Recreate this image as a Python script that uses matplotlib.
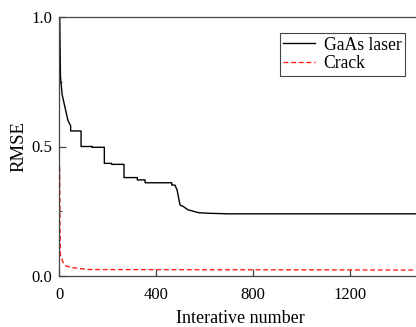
import matplotlib
matplotlib.use("Agg")
import matplotlib.pyplot as plt
from matplotlib.ticker import MultipleLocator

# GaAs laser curve (step-like decay)
gaasIter = [3, 6, 13, 25, 37, 48, 48, 91, 91, 136, 136, 187, 187, 217, 217, 268, 268,
            323, 323, 355, 355, 465, 465, 478, 487, 499, 513, 533, 547, 568, 581, 623, 700, 1500]
gaasRmse = [1.0, 0.77, 0.70, 0.65, 0.60, 0.58, 0.56, 0.56, 0.50, 0.50, 0.497, 0.497, 0.435,
            0.435, 0.431, 0.431, 0.38, 0.38, 0.371, 0.371, 0.36, 0.36, 0.351, 0.351, 0.332,
            0.274, 0.268, 0.255, 0.252, 0.246, 0.244, 0.242, 0.24, 0.24]

# Crack curve
crackIter = [3, 4, 6, 18, 30, 58, 120, 1500]
crackRmse = [0.42, 0.2, 0.08, 0.049, 0.038, 0.032, 0.025, 0.023]

xTicks = [0, 400, 800, 1200]
yTicks = [0.0, 0.5, 1.0]

plt.rcParams["font.family"] = ["Liberation Serif", "DejaVu Serif"]

fig = plt.figure(figsize=(4.16, 3.27), dpi=100)
ax = fig.add_axes([59 / 416, 51 / 327, 363.75 / 416, 259 / 327])

ax.plot(gaasIter, gaasRmse, color="black", lw=1.0, label="GaAs laser")
ax.plot(crackIter, crackRmse, color="#ff2020", lw=1.0, ls=(0, (3.5, 2)), label="Crack")

ax.set_xlim(0, 1500)
ax.set_ylim(0, 1.0)
ax.set_xticks(xTicks)
ax.set_yticks(yTicks)
ax.set_yticklabels(["0.0", "0.5", "1.0"])
ax.yaxis.set_minor_locator(MultipleLocator(0.25))

for s in ax.spines.values():
    s.set_color("#444444")
    s.set_linewidth(0.9)

ax.tick_params(which="both", direction="in", colors="#444444", labelcolor="black",
               labelsize=12, width=0.9)
ax.tick_params(which="major", length=5)
ax.tick_params(which="minor", length=2.5)
ax.tick_params(axis="x", pad=8)
ax.tick_params(axis="y", pad=5)

ax.set_xlabel("Interative number", fontsize=13, labelpad=5)
ax.set_ylabel("RMSE", fontsize=13.5, labelpad=3)

leg = ax.legend(loc="upper right", bbox_to_anchor=(0.951, 0.938), borderaxespad=0,
                fancybox=False, edgecolor="#444444", framealpha=1, fontsize=12.7,
                handlelength=1.8, handletextpad=0.5, labelspacing=0.1, borderpad=0.2)
leg.get_frame().set_linewidth(0.8)

fig.savefig("out.png", dpi=100)
